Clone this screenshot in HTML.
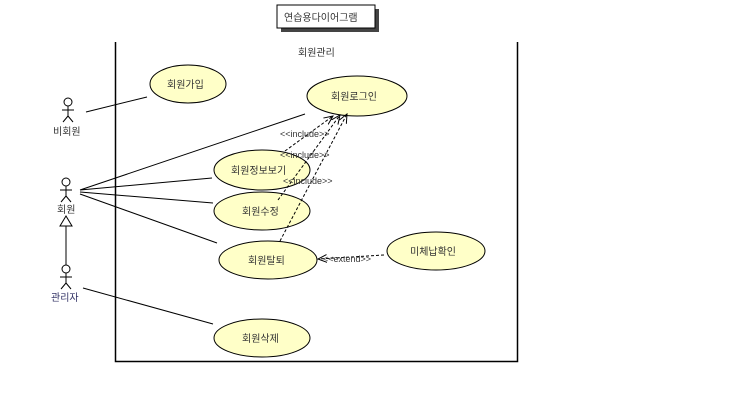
<!DOCTYPE html>
<html><head><meta charset="utf-8"><style>
html,body{margin:0;padding:0;background:#fff;}
svg text{font-family:"Liberation Sans","Noto Sans CJK KR",sans-serif;font-size:10px;fill:#333;}
</style></head><body>
<svg width="738" height="413" viewBox="0 0 738 413" xmlns="http://www.w3.org/2000/svg">
<defs>
<marker id="oa" markerWidth="10" markerHeight="10" refX="9" refY="5" orient="auto" markerUnits="userSpaceOnUse">
<path d="M0,1 L9,5 L0,9" fill="none" stroke="#000" stroke-width="1"/></marker>
</defs>
<!-- note -->
<rect x="281" y="9" width="98" height="23" fill="#444"/>
<rect x="277" y="5" width="98" height="23" fill="#fff" stroke="#000"/>
<text x="284" y="21">연습용다이어그램</text>
<!-- frame -->
<path d="M115.5,42 V361.5 H517.5 V42" fill="none" stroke="#000" stroke-width="1.5"/>
<text x="298" y="56">회원관리</text>
<g fill="#ffffc8" stroke="#000" stroke-width="1">
<ellipse cx="188" cy="84" rx="38" ry="19"/>
<ellipse cx="357" cy="96" rx="50" ry="20"/>
<ellipse cx="262" cy="170" rx="48" ry="20"/>
<ellipse cx="262" cy="211" rx="48" ry="19"/>
<ellipse cx="268" cy="260" rx="49" ry="19"/>
<ellipse cx="436" cy="251" rx="49" ry="19"/>
<ellipse cx="262" cy="338" rx="48" ry="19"/>
</g>
<text x="167" y="88">회원가입</text>
<text x="331" y="100">회원로그인</text>
<text x="231" y="174">회원정보보기</text>
<text x="242" y="215">회원수정</text>
<text x="248" y="264">회원탈퇴</text>
<text x="410" y="255">미체납확인</text>
<text x="242" y="342">회원삭제</text>
<!-- actors -->
<g stroke="#000" fill="none" stroke-width="1">
<circle cx="68" cy="102" r="4"/><path d="M68,106 V116 M62,110 H74 M68,116 L63,122 M68,116 L73,122"/>
<circle cx="66" cy="182" r="4"/><path d="M66,186 V196 M60,190 H72 M66,196 L61,202 M66,196 L71,202"/>
<circle cx="66" cy="269" r="4"/><path d="M66,273 V283 M60,277 H72 M66,283 L61,289 M66,283 L71,289"/>
<path d="M66,216 L60,226 H72 Z M66,226 V265"/>
<path d="M86,112 L147,97 M80,190 L305,114 M80,190 L212,178 M80,192 L213,203 M80,194 L217,243 M83,288 L213,324"/>
</g>
<text x="53" y="135">비회원</text>
<text x="57" y="213">회원</text>
<text x="51" y="301" style="fill:#336">관리자</text>
<!-- include/extend -->
<g stroke="#000" stroke-width="1" stroke-dasharray="3,2" fill="none" marker-end="url(#oa)">
<path d="M285,151 L333,116"/>
<path d="M278,200 L340,115"/>
<path d="M280,241 L347,114"/>
<path d="M384,255 L318,259"/>
</g>
<text x="280" y="137" style="font-size:9px">&lt;&lt;include&gt;&gt;</text>
<text x="280" y="158" style="font-size:9px">&lt;&lt;include&gt;&gt;</text>
<text x="283" y="184" style="font-size:9px">&lt;&lt;include&gt;&gt;</text>
<text x="323" y="262" style="font-size:9px">&lt;&lt;extend&gt;&gt;</text>
</svg>
</body></html>
